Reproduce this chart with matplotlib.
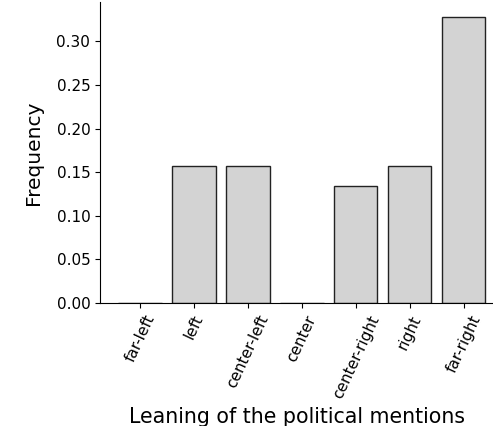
import matplotlib
matplotlib.use('Agg')
import matplotlib.pyplot as plt

leanings = ['far-left', 'left', 'center-left', 'center',
            'center-right', 'right', 'far-right']
frequency = [0.0, 0.157, 0.157, 0.0, 0.134, 0.157, 0.328]

fig = plt.figure(figsize=(4.93, 4.26), dpi=100)
ax = fig.add_axes([0.203, 0.289, 0.797, 0.706])

ax.bar(range(len(leanings)), frequency, width=0.8,
       color='lightgray', edgecolor='#222222', linewidth=1.0)

ax.set_xticks(range(len(leanings)))
ax.set_xticklabels(leanings, rotation=65, ha='center', fontsize=11)
ax.tick_params(axis='y', labelsize=11)
ax.set_yticks([0.0, 0.05, 0.10, 0.15, 0.20, 0.25, 0.30])
ax.set_yticklabels(['0.00', '0.05', '0.10', '0.15', '0.20', '0.25', '0.30'])
ax.set_xlim(-0.74, 6.54)
ax.set_ylim(0, 0.345)

ax.spines['top'].set_visible(False)
ax.spines['right'].set_visible(False)

ax.set_xlabel('Leaning of the political mentions', fontsize=14.8, labelpad=5)
ax.set_ylabel('Frequency', fontsize=14.5, labelpad=10)

fig.savefig('out.png', dpi=100)
